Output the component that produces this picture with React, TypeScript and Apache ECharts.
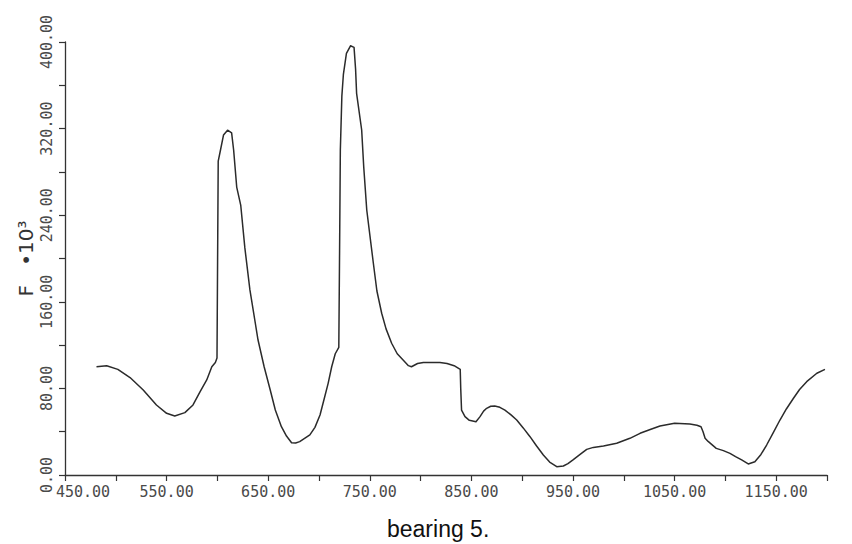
import React, { useEffect, useRef } from "react";
import * as echarts from "echarts";

const xValues = [
  481, 491, 502, 514, 527, 540, 550, 558, 568, 576, 583, 589.5, 594.5, 598, 599.6, 600.2, 600.8,
  603, 606, 610, 614, 616, 619, 623, 627, 632, 640, 646, 652, 657, 663, 668, 673, 677, 681, 691,
  696, 701, 705, 709, 712.5, 716, 719.5, 720.2, 721, 722.5, 724, 727, 731, 734.5, 736, 737, 742,
  744, 747, 753.5, 757, 761.7, 766, 771.5, 777, 783, 788, 791, 797, 802.7, 819, 826, 833, 839,
  839.5, 840.3, 843.7, 848, 854.5, 858.5, 862, 865, 869, 873, 878, 883, 889, 894.6, 901, 907.7,
  914, 920.8, 927, 934, 940.5, 945, 950, 957, 963.5, 970, 980, 993, 1006, 1016, 1026, 1035.6,
  1050, 1065, 1072, 1076, 1078, 1080, 1083, 1091, 1098, 1104.5, 1110, 1116, 1122.5, 1129, 1135,
  1140.6, 1147, 1153.7, 1160, 1167, 1173, 1180, 1190, 1198,
];
const fValues = [
  100, 101, 97.6, 90, 78.5, 64.7, 57, 54.5, 57.6, 64.7, 77, 87.8, 100, 104, 108, 200, 290,
  300, 314, 318.5, 316, 300, 266, 249, 210, 171, 124.7, 100, 78.5, 60, 44.6, 36, 29.8, 29.5, 30.8, 37,
  44, 55.4, 70, 84.7, 100, 112, 118, 200, 300, 350, 370, 389.5, 396.5, 395, 375, 352.6, 318.7,
  285, 244.8, 195.6, 170, 149.4, 135, 121.7, 112, 106, 101, 100, 103, 104, 104, 103, 101, 97.6,
  80, 60, 53.9, 50.5, 49.2, 53.9, 59, 61.6, 63.5, 63.7, 62.5, 60, 55.5, 50.8, 43.5, 35.4,
  27, 18.5, 12, 7.7, 8.3, 10.5, 13.9, 19, 23.7, 25.5, 26.8, 29.3, 33.9, 38.5, 42, 45.3,
  47.8, 47.1, 46, 44.6, 40, 34, 31, 24.6, 22.5, 20, 17, 13.9, 10.2, 12.3, 19,
  27.7, 39, 50.8, 61, 70.9, 79, 86.2, 94, 97.6,
];

const xMin = 450;
const xMax = 1200;
const xTickStep = 50;
const xLabelStep = 100;
const yMin = 0;
const yMax = 400;
const yTickStep = 40;
const yLabelStep = 80;

const yAxisTitle = "F   •10³";
const caption = "bearing 5.";

export default function App() {
  const ref = useRef<HTMLDivElement>(null);
  useEffect(() => {
    if (!ref.current) return;
    const chart = echarts.init(ref.current, null, { renderer: "svg" });
    const data = xValues.map((x, i) => [x, fValues[i]]);
    const labelFont = {
      fontFamily: "DejaVu Sans Mono",
      fontSize: 15,
      color: "#4a4a4a",
    };
    chart.setOption({
      animation: false,
      backgroundColor: "#ffffff",
      grid: { left: 65, right: 25, top: 42, bottom: 69, containLabel: false },
      xAxis: {
        type: "value",
        min: xMin,
        max: xMax,
        interval: xTickStep,
        splitLine: { show: false },
        axisLine: { show: true, onZero: false, lineStyle: { color: "#333", width: 1.3 } },
        axisTick: { show: true, length: 6, lineStyle: { color: "#333", width: 1.2 } },
        axisLabel: {
          ...labelFont,
          margin: 9,
          showMinLabel: true,
          showMaxLabel: true,
          formatter: (v: number) => {
            if (Math.abs((v - xMin) % xLabelStep) > 1e-6) return "";
            if (v === xMin) return "{first|" + v.toFixed(2) + "}";
            return v.toFixed(2);
          },
          rich: {
            first: { ...labelFont, padding: [0, 0, 0, 36] },
          },
        },
      },
      yAxis: {
        type: "value",
        min: yMin,
        max: yMax,
        interval: yTickStep,
        splitLine: { show: false },
        name: yAxisTitle,
        nameLocation: "middle",
        nameGap: 29,
        nameMoveOverlap: false,
        nameRotate: 90,
        nameTextStyle: {
          fontFamily: "DejaVu Sans",
          fontSize: 20,
          color: "#333",
        },
        axisLine: { show: true, onZero: false, lineStyle: { color: "#333", width: 1.3 } },
        axisTick: { show: true, length: 6, lineStyle: { color: "#333", width: 1.2 } },
        axisLabel: {
          ...labelFont,
          rotate: 90,
          margin: 11,
          formatter: (v: number) =>
            Math.abs((v - yMin) % yLabelStep) < 1e-6 ? v.toFixed(2) : "",
        },
      },
      graphic: [
        {
          type: "text",
          left: 442 - 55,
          top: 517,
          style: {
            text: caption,
            fontFamily: "Liberation Sans",
            fontSize: 23,
            fill: "#111",
          },
        },
      ],
      series: [
        {
          type: "line",
          data,
          showSymbol: false,
          smooth: false,
          lineStyle: { color: "#2b2b2b", width: 1.5, join: "round" },
        },
      ],
    });
    return () => chart.dispose();
  }, []);
  return (
    <div
      ref={ref}
      style={{ position: "fixed", left: 0, top: 0, width: 852, height: 544, background: "#fff" }}
    />
  );
}
